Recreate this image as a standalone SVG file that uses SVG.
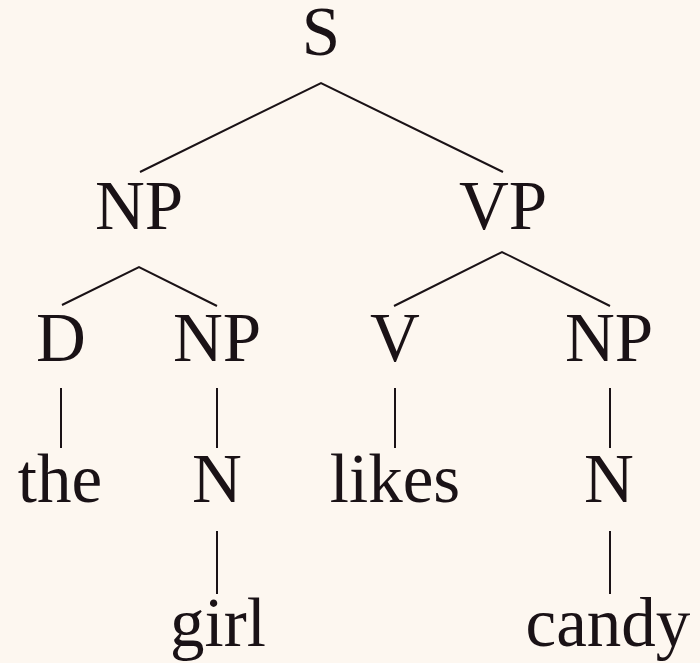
<svg xmlns="http://www.w3.org/2000/svg" width="700" height="663" viewBox="0 0 700 663">
<style>
.lbl{font-family:"Liberation Serif","DejaVu Serif",serif;font-size:69px;fill:#1a1216;text-anchor:middle}
.edge{stroke:#1a1216;stroke-width:2;fill:none;stroke-linecap:butt}
</style>
<rect width="700" height="663" fill="#fdf7f0"/>
<g id="connectors">
<path class="edge" d="M140,172 L321,83 L503,172"/>
<path class="edge" d="M62,305 L139,267 L217,306"/>
<path class="edge" d="M394,306 L502,252 L610,306"/>
<line class="edge" x1="61" y1="388" x2="61" y2="448"/>
<line class="edge" x1="217" y1="388" x2="217" y2="448"/>
<line class="edge" x1="395" y1="388" x2="395" y2="448"/>
<line class="edge" x1="610" y1="388" x2="610" y2="448"/>
<line class="edge" x1="217" y1="531" x2="217" y2="594"/>
<line class="edge" x1="610" y1="531" x2="610" y2="594"/>
</g>
<g id="S"><text class="lbl" x="321" y="55">S</text></g>
<g id="NP1"><text class="lbl" x="139" y="229">NP</text></g>
<g id="VP"><text class="lbl" x="503" y="229">VP</text></g>
<g id="D"><text class="lbl" x="61" y="361">D</text></g>
<g id="NP2"><text class="lbl" x="217" y="361">NP</text></g>
<g id="V"><text class="lbl" x="395" y="361">V</text></g>
<g id="NP3"><text class="lbl" x="609" y="361">NP</text></g>
<g id="the"><text class="lbl" x="60" y="502">the</text></g>
<g id="N1"><text class="lbl" x="217" y="502">N</text></g>
<g id="likes"><text class="lbl" x="395" y="502">likes</text></g>
<g id="N2"><text class="lbl" x="609" y="502">N</text></g>
<g id="girl"><text class="lbl" x="218" y="646">girl</text></g>
<g id="candy"><text class="lbl" x="608" y="646">candy</text></g>
</svg>
